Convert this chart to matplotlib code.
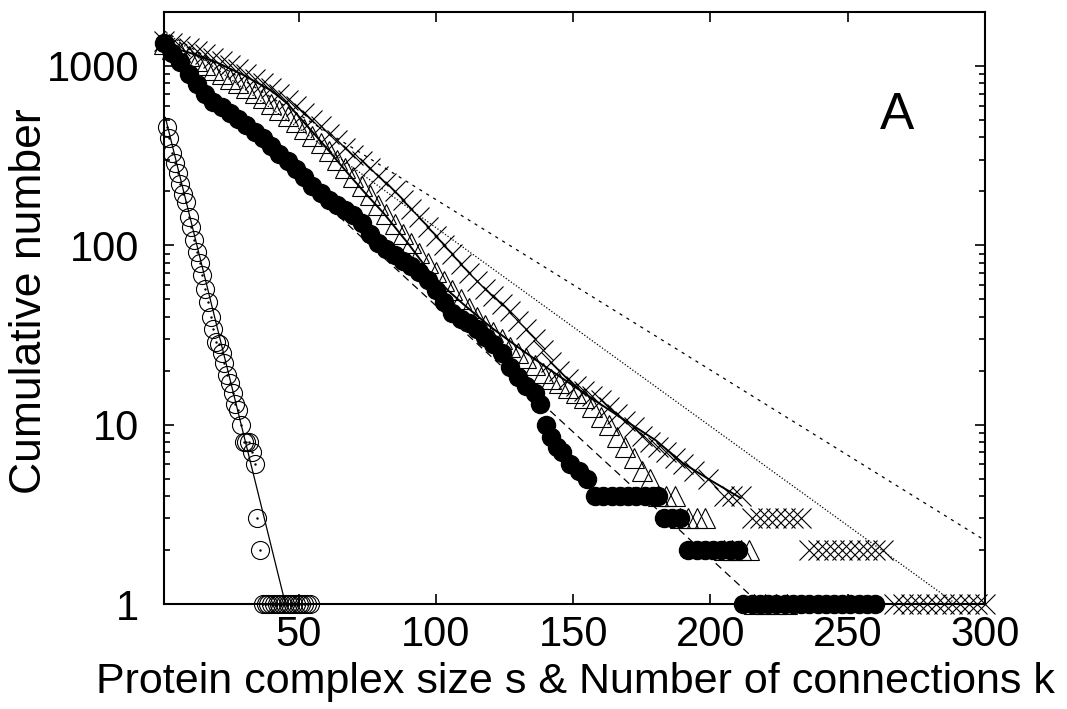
import matplotlib
matplotlib.use('Agg')
import matplotlib.pyplot as plt
import numpy as np

plt.rcParams['font.family'] = ['Liberation Sans', 'DejaVu Sans']

# complex size distribution (open circles)
s_size = [2, 3, 4, 5, 6, 7, 8, 9, 10, 11, 12, 13, 14, 15, 16, 17, 18, 19, 20, 21, 22, 23, 24,
          25, 26, 27, 28, 29, 30, 31, 32, 33, 34, 35, 36,
          37, 38, 39, 40, 41, 42, 43, 44, 45, 46, 47, 48, 49, 50, 51, 52, 53, 54]
n_size = [454, 395, 326, 286, 252, 221, 194, 174, 143, 126, 107, 92, 80, 68, 57, 48, 40, 34, 29, 28,
          25, 22, 19, 17, 15, 13, 12, 10, 8, 8, 8, 7, 6, 3, 2,
          1, 1, 1, 1, 1, 1, 1, 1, 1, 1, 1, 1, 1, 1, 1, 1, 1, 1]

# connections, filled circles
k_fill = [1, 4, 7, 10, 13, 16, 19, 22, 25, 28, 31, 34, 37, 40, 43, 46, 49, 52, 55, 58, 61, 64, 67,
          70, 73, 76, 79, 82, 85, 88, 91, 94, 97, 100, 103, 106, 109, 112, 115, 118, 121, 124, 127,
          130, 133, 136, 138, 140, 142, 144, 146, 149, 152, 155,
          158, 161, 164, 167, 170, 173, 176, 179, 181,
          183, 186, 189,
          192, 195, 198, 201, 204, 207, 210,
          212, 215, 218, 221, 224, 227, 230, 233, 236, 239, 242, 245, 248, 251, 254, 257, 260]
n_fill = [1350, 1180, 1050, 900, 790, 700, 630, 590, 545, 505, 470, 430, 395, 360, 325, 295, 265,
          240, 215, 195, 178, 168, 158, 148, 134, 115, 103, 95, 88, 82, 77, 71, 64, 56, 48, 42, 39,
          37, 34, 31, 28, 25, 21, 18.5, 16.5, 15, 13, 10, 8.5, 7.5, 7, 6, 5.5, 5,
          4, 4, 4, 4, 4, 4, 4, 4, 4,
          3, 3, 3,
          2, 2, 2, 2, 2, 2, 2,
          1, 1, 1, 1, 1, 1, 1, 1, 1, 1, 1, 1, 1, 1, 1, 1, 1]

# connections, triangles
k_tri = [1, 4, 7, 10, 13, 16, 19, 22, 25, 28, 31, 34, 37, 40, 43, 46, 49, 52, 55, 58, 61, 64, 67,
         70, 73, 76, 79, 82, 85, 88, 91, 94, 97, 100, 103, 106, 109, 112, 115, 118, 121, 124, 127,
         130, 133, 136, 139, 142, 145, 148, 151, 154, 157, 160, 163, 166, 169, 172, 175, 178,
         181, 184, 187, 189, 192, 195, 198, 205, 208, 211, 214, 216, 220, 224, 228]
n_tri = [1320, 1250, 1190, 1130, 1070, 1010, 955, 900, 850, 800, 750, 705, 660, 615, 570, 525, 485,
         445, 405, 370, 335, 300, 270, 240, 215, 190, 168, 150, 132, 116, 103, 91, 80, 71, 63, 56,
         50, 45, 40, 36, 33, 30, 27, 25, 23.5, 21.5, 19.5, 18, 17, 16, 15, 14, 12.5, 11, 10, 8.5,
         7.5, 6.5, 5.5, 5, 4, 4, 4, 3, 3, 3, 3, 2, 2, 2, 2, 1, 1, 1, 1]

# connections, crosses
k_star = [1, 4, 7, 10, 13, 16, 19, 22, 25, 28, 31, 34, 37, 40, 43, 46, 49, 52, 55, 58, 61, 64, 67,
          70, 73, 76, 79, 82, 85, 88, 91, 94, 97, 100, 103, 106, 109, 112, 115, 118, 121, 124, 127,
          130, 133, 136, 139, 142, 145, 148, 151, 154, 157, 160, 163, 166, 169, 172, 175, 178, 181,
          184, 187, 190, 194, 199, 205, 208, 211, 215, 218, 221, 224, 227, 230, 233,
          236, 239, 242, 245, 248, 251, 254, 257, 260, 263,
          267, 270, 273, 276, 279, 282, 285, 288, 291, 294, 297, 300]
n_star = [1380, 1340, 1300, 1260, 1210, 1160, 1110, 1060, 1010, 960, 905, 850, 800, 750, 700, 645,
          595, 545, 500, 460, 420, 385, 350, 320, 295, 270, 245, 222, 200, 180, 160, 143, 127, 113,
          100, 89, 79, 70, 63, 57, 52, 47, 43, 38, 34, 30, 26, 22.5, 20, 18, 16.5, 15.5, 14.5, 13.7,
          12.5, 11.5, 10.5, 9.7, 8.7, 8, 7.5, 7, 6.5, 6, 5.5, 5, 4, 4, 4, 3, 3, 3, 3, 3, 3, 3,
          2, 2, 2, 2, 2, 2, 2, 2, 2, 2,
          1, 1, 1, 1, 1, 1, 1, 1, 1, 1, 1, 1]

# smooth solid curve
k_curve = [1, 10, 20, 30, 40, 46, 50, 55, 60, 65, 70, 75, 81, 90, 98, 105, 110, 120, 130, 140,
           150, 160, 170, 180, 190, 200, 211]
n_curve = [1300, 1190, 1050, 890, 730, 616, 525, 430, 352, 285, 232, 190, 151, 102, 70, 55, 47,
           35, 27, 21, 16.5, 13, 10.3, 8.2, 6.1, 4.9, 3.9]

# exponential fits N = A * exp(-x / x0)
fit_size = (640, 7.0)
fit_fill = (1186, 30.8)
fit_dot = (1610, 39.2)
fit_dash = (1605, 45.7)

fig = plt.figure(figsize=(10.67, 7.09), dpi=100)
ax = fig.add_axes([164 / 1067, 105 / 709, 821 / 1067, 592 / 709])

xx = np.linspace(1, 300, 600)
xs = np.linspace(1.5, 46, 200)
ax.plot(xs, fit_size[0] * np.exp(-xs / fit_size[1]), color='black', lw=0.9)
ax.plot(xx, fit_fill[0] * np.exp(-xx / fit_fill[1]), color='black', lw=0.9, linestyle=(0, (6, 4)))
ax.plot(xx, fit_dot[0] * np.exp(-xx / fit_dot[1]), color='black', lw=0.9, linestyle=(0, (1, 1.5)))
ax.plot(xx, fit_dash[0] * np.exp(-xx / fit_dash[1]), color='black', lw=0.9, linestyle=(0, (2.5, 4)))

ax.plot(k_tri, n_tri, linestyle='none', marker='^', ms=14, mfc='none', mec='black', mew=0.8,
        clip_on=False)
ax.plot(k_star, n_star, linestyle='none', marker='x', ms=15, mec='black', mew=0.8, clip_on=False)
ax.plot(k_fill, n_fill, linestyle='none', marker='o', ms=13, mfc='black', mec='black', clip_on=False)
ax.plot(s_size, n_size, linestyle='none', marker='o', ms=13, mfc='none', mec='black', mew=0.8,
        clip_on=False)
ax.plot(s_size, n_size, linestyle='none', marker='.', ms=1.5, color='black', clip_on=False)
ax.plot(k_curve, n_curve, color='black', lw=1.4)

ax.set_yscale('log')
ax.set_xlim(1, 300)
ax.set_ylim(1, 2000)
ax.set_xticks([50, 100, 150, 200, 250, 300])
ax.set_yticks([1, 10, 100, 1000])
ax.set_yticklabels(['1', '10', '100', '1000'])
ax.minorticks_on()
ax.xaxis.set_minor_locator(matplotlib.ticker.NullLocator())
ax.tick_params(which='both', direction='in', top=True, right=True, labelsize=30, width=1.2)
ax.tick_params(which='major', length=7)
ax.tick_params(which='minor', length=4)
ax.tick_params(axis='x', which='major', pad=8)
ax.tick_params(axis='y', which='major', pad=18)
for sp in ax.spines.values():
    sp.set_linewidth(1.5)

fig.text(575 / 1067, 1 - 693 / 709, 'Protein complex size s & Number of connections k',
         fontsize=31, ha='center', va='baseline')
fig.text(30 / 1067, 1 - 301 / 709, 'Cumulative number', fontsize=32, rotation=90,
         ha='center', va='center')
ax.text(0.893, 0.826, 'A', transform=ax.transAxes, fontsize=37, ha='center', va='center')

fig.savefig('out.png', dpi=100)
